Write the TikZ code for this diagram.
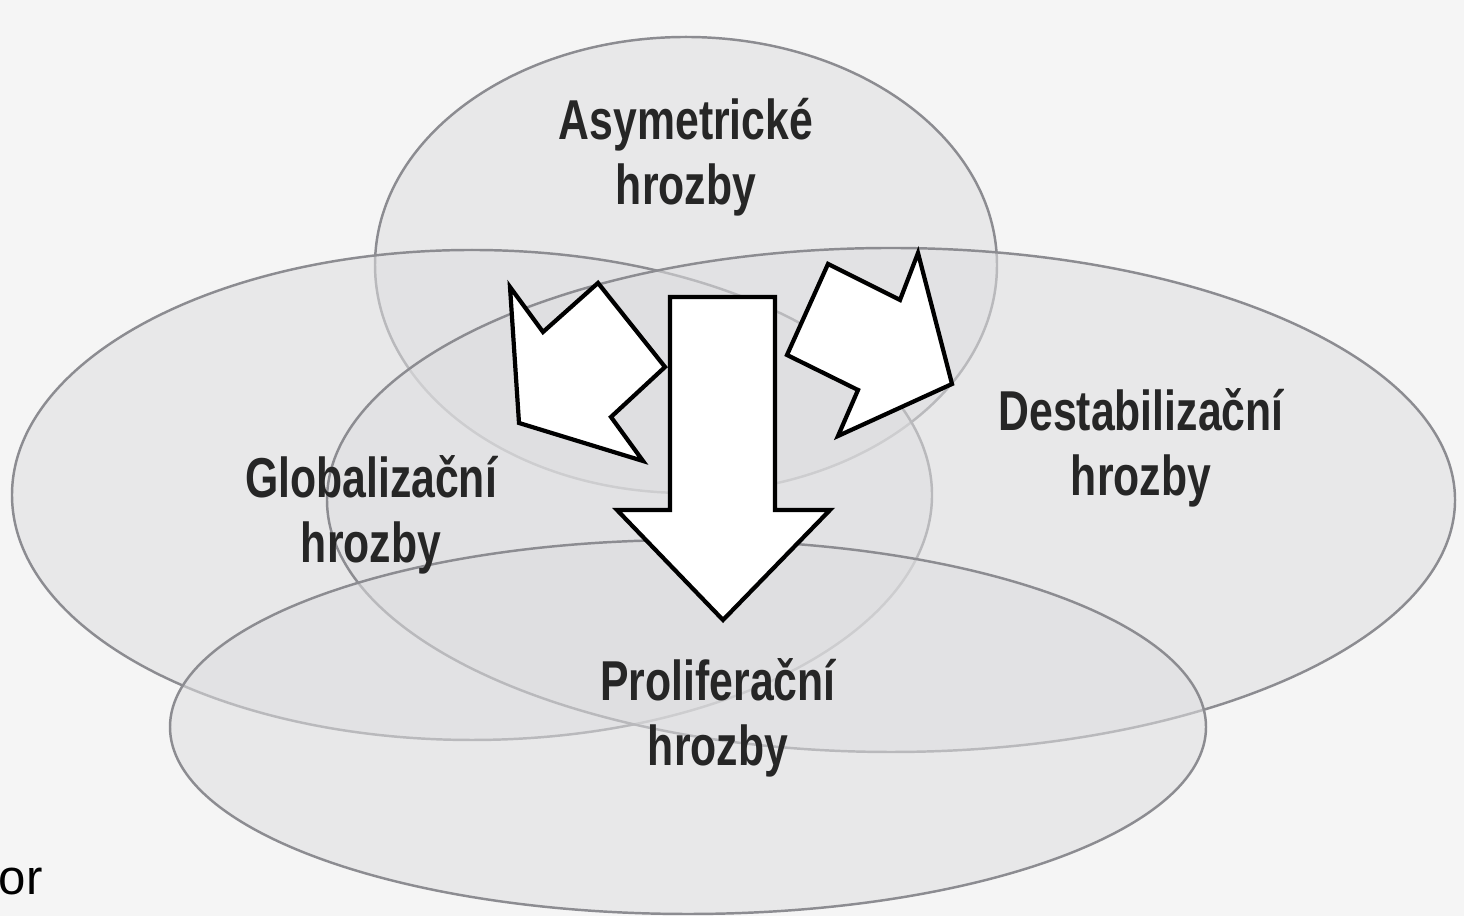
\documentclass[tikz,border=0pt]{standalone}
\usepackage{fontspec}
\usepackage{tikz}
\usetikzlibrary{shapes.geometric}
\newfontfamily\hrozbafont[FakeStretch=0.76]{Liberation Sans}
\newfontfamily\zdrojfont{Liberation Sans}
\definecolor{papir}{rgb}{.96,.96,.96}
\definecolor{obrys}{rgb}{.55,.55,.57}
\definecolor{vypln}{rgb}{.87,.87,.88}
\tikzset{
  oblast/.style={ellipse, inner sep=0pt, draw=obrys, line width=.7pt,
    fill=vypln, fill opacity=.55},
  sipka/.style={draw=black, fill=white, line width=1.2pt, line join=miter},
  nazev/.style={font=\hrozbafont\bfseries\fontsize{16}{18.5}\selectfont,
    align=center, text=black!85}
}
\begin{document}
\begin{tikzpicture}
  % Paper
  \fill[papir] (0,0) rectangle (14.64,9.16);
  \useasboundingbox (0,0) rectangle (14.64,9.16);

  % The four areas of threats
  \node[oblast, minimum width=6.22cm, minimum height=4.56cm] (asym) at (6.86,6.51) {};
  \node[oblast, minimum width=9.20cm, minimum height=4.90cm] (glob) at (4.72,4.21) {};
  \node[oblast, minimum width=11.28cm, minimum height=5.04cm] (dest) at (8.91,4.16) {};
  \node[oblast, minimum width=10.36cm, minimum height=3.74cm] (prol) at (6.88,1.89) {};

  % Side arrows
  \draw[sipka] (5.10,6.29) -- (5.43,5.84) -- (5.98,6.33) -- (6.65,5.49)
    -- (6.11,4.99) -- (6.43,4.55) -- (5.19,4.93) -- cycle;
  \draw[sipka] (8.28,6.52) -- (9.00,6.16) -- (9.18,6.63) -- (9.52,5.32)
    -- (8.38,4.80) -- (8.58,5.26) -- (7.87,5.61) -- cycle;

  % Main arrow down
  \draw[sipka] (6.70,6.19) -- (7.75,6.19) -- (7.75,4.06) -- (8.30,4.06)
    -- (7.23,2.96) -- (6.17,4.06) -- (6.70,4.06) -- cycle;

  % Labels
  \node[nazev] (asymtext) at (6.86,7.59) {Asymetrické\\hrozby};
  \node[nazev] (globtext) at (3.71,4.01) {Globalizační\\hrozby};
  \node[nazev] (desttext) at (11.41,4.68) {Destabilizační\\hrozby};
  \node[nazev] (proltext) at (7.18,1.98) {Proliferační\\hrozby};

  % Fragment of the source line
  \node[font=\zdrojfont\fontsize{14}{16}\selectfont, anchor=west, inner sep=0pt]
    (zdroj) at (-0.02,0.34) {or};
\end{tikzpicture}
\end{document}
